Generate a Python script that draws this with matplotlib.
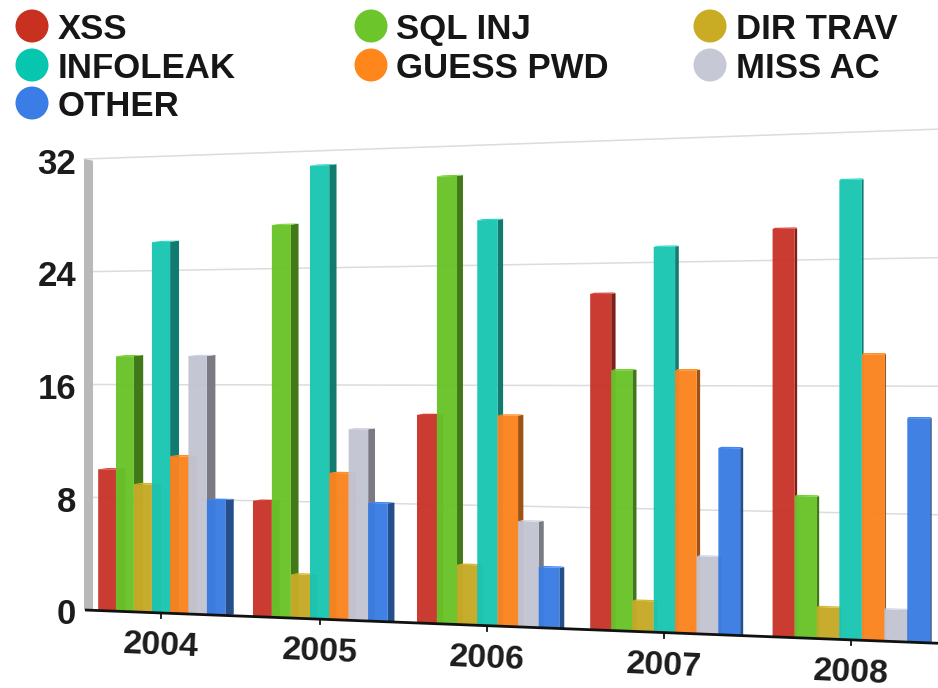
import matplotlib
matplotlib.use("Agg")
import matplotlib.pyplot as plt
from matplotlib.patches import Polygon, Circle
from matplotlib.colors import to_rgb

plt.rcParams['font.family'] = ['Liberation Sans', 'DejaVu Sans']

years = ['2004', '2005', '2006', '2007', '2008']
series_names = ['XSS', 'SQL INJ', 'DIR TRAV', 'INFOLEAK', 'GUESS PWD', 'MISS AC', 'OTHER']
xss = [10, 8, 14, 22, 26]
sql_inj = [18, 27, 30, 17, 9]
dir_trav = [9, 3, 4, 2, 2]
infoleak = [26, 31, 27, 25, 29]
guess_pwd = [11, 10, 14, 17, 18]
miss_ac = [18, 13, 7, 5, 2]
other = [8, 8, 4, 12, 14]
series_values = [xss, sql_inj, dir_trav, infoleak, guess_pwd, miss_ac, other]
y_ticks = [0, 8, 16, 24, 32]

bar_colors = ['#c9342a', '#69c329', '#c7aa26', '#1cc7b3', '#fb8420', '#c3c4d2', '#3a7de2']
legend_colors = ['#c8301f', '#6cc52a', '#c9ac24', '#07c6b0', '#ff861a', '#c6c8d6', '#3a7de6']

W, H = 938, 688
fig = plt.figure(figsize=(W / 100, H / 100), dpi=100)
ax = fig.add_axes([0, 0, 1, 1])
ax.set_xlim(0, W)
ax.set_ylim(H, 0)
ax.axis('off')


# perspective projection of the chart plane into pixel space
def px(u):
    return 161 + 154 * u + 4.6 * u * u


def py(x, v):
    bottom = 610 + 0.039 * (x - 85)
    top = 159 - 0.035 * (x - 85)
    return bottom + (top - bottom) * v / 32


def depth(x):
    return max(9.5 - (x - 98) * 0.0105, 1.5)


def shade(c, f):
    return tuple(min(1, ch * f) for ch in to_rgb(c))


LEFT, RIGHT = 85, 938
SLOT = 0.118

# gridlines
for t in y_ticks[1:]:
    ax.plot([LEFT, RIGHT], [py(LEFT, t), py(RIGHT, t)], color='#dcdcdc', lw=1.1, zorder=1)

# left wall
ax.add_patch(Polygon([(84, py(84, 32)), (93, py(93, 32) + 2), (93, py(93, 0)), (84, py(84, 0))],
                     closed=True, fc='#b9b9b9', ec='none', zorder=2))

# bars
z = 3
for i, year in enumerate(years):
    for j, vals in enumerate(series_values):
        v = vals[i]
        c = bar_colors[j]
        x0 = px(i + (j - 3.5) * SLOT)
        x1 = px(i + (j - 2.5) * SLOT)
        d = depth(x0)
        dy = d * 0.12
        # side face
        ax.add_patch(Polygon([(x1, py(x1, v)), (x1 + d, py(x1, v) - dy),
                              (x1 + d, py(x1, 0) - dy), (x1, py(x1, 0))],
                             closed=True, fc=shade(c, 0.62), ec='none', zorder=z))
        # front face
        ax.add_patch(Polygon([(x0, py(x0, v)), (x1, py(x1, v)), (x1, py(x1, 0)), (x0, py(x0, 0))],
                             closed=True, fc=c, ec='none', alpha=0.97, zorder=z + 1))
        # top cap
        ax.add_patch(Polygon([(x0, py(x0, v)), (x1, py(x1, v)),
                              (x1 + d, py(x1, v) - 1.2), (x0 + d, py(x0, v) - 1.2)],
                             closed=True, fc=shade(c, 1.08), ec='none', zorder=z + 1))
        z += 2

# baseline and ticks
ax.plot([LEFT, RIGHT], [py(LEFT, 0), py(RIGHT, 0)], color='#111111', lw=2, zorder=z,
        solid_capstyle='butt')
for i, year in enumerate(years):
    x = px(i)
    y = py(x, 0)
    ax.plot([x, x], [y, y + 5], color='#111111', lw=1.3, zorder=z)
    ax.text(x, y + 33, year, fontsize=24.5, fontweight='bold', color='#1c1c1c',
            ha='center', va='center', rotation=-2.4, rotation_mode='anchor', zorder=z)

# y tick labels
for t in y_ticks:
    ax.text(76, py(LEFT, t) + 5, str(t), fontsize=25, fontweight='bold', color='#1c1c1c',
            ha='right', va='center', zorder=z)

# legend
legend_order = [0, 3, 6, 1, 4, 2, 5]
legend_cells = [(0, 0), (0, 1), (0, 2), (1, 0), (1, 1), (2, 0), (2, 1)]
col_x = [32, 371, 710]
row_y = [26, 65, 103]
for k, (col, row) in zip(legend_order, legend_cells):
    cx, cy = col_x[col], row_y[row]
    ax.add_patch(Circle((cx, cy), 16.5, fc=legend_colors[k], ec='none', zorder=z))
    ax.text(cx + 25.5, cy + 3.5, series_names[k], fontsize=25, fontweight='bold', color='#161616',
            ha='left', va='center', zorder=z)

fig.savefig('out.png', dpi=100)
